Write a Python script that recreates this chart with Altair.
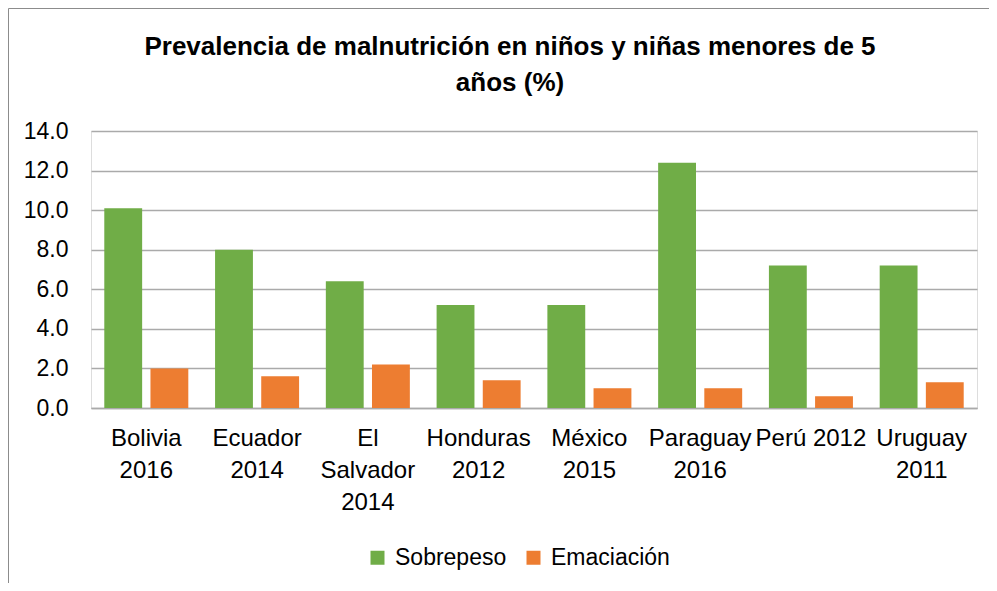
import altair as alt
import pandas as pd

paises = ["Bolivia|2016", "Ecuador|2014", "El|Salvador|2014", "Honduras|2012",
          "México|2015", "Paraguay|2016", "Perú 2012", "Uruguay|2011"]
sobrepeso = [10.1, 8.0, 6.4, 5.2, 5.2, 12.4, 7.2, 7.2]
emaciacion = [2.0, 1.6, 2.2, 1.4, 1.0, 1.0, 0.6, 1.3]
series = ["Sobrepeso", "Emaciación"]
colores = ["#70AD47", "#ED7D31"]
titulo = ["Prevalencia de malnutrición en niños y niñas menores de 5", "años (%)"]

rows = []
for p, s, e in zip(paises, sobrepeso, emaciacion):
    rows.append({"pais": p, "serie": series[0], "valor": s})
    rows.append({"pais": p, "serie": series[1], "valor": e})
df = pd.DataFrame(rows)
one = pd.DataFrame({"k": [0]})

FONT = "Liberation Sans, Arial, sans-serif"

W, H = 886, 277
PL, PT, PR, PB = 83, 123, 12, 175

bars = alt.Chart(df).mark_bar().encode(
    x=alt.X("pais:N", sort=paises, title=None,
            scale=alt.Scale(paddingInner=0.2415, paddingOuter=0.12),
            axis=alt.Axis(labelExpr="split(datum.label, '|')", labelAngle=0,
                          labelFontSize=24, labelFont=FONT, labelColor="#000000",
                          labelLineHeight=32, labelPadding=18, ticks=False,
                          domain=True, domainColor="#aaaaaa", domainWidth=1.5,
                          labelBaseline="top")),
    xOffset=alt.XOffset("serie:N", sort=series,
                        scale=alt.Scale(paddingInner=0.18)),
    y=alt.Y("valor:Q", title=None,
            scale=alt.Scale(domain=[0, 14]),
            axis=alt.Axis(values=[0, 2, 4, 6, 8, 10, 12, 14], format=".1f",
                          labelFontSize=23, labelFont=FONT, labelColor="#000000",
                          labelPadding=23, ticks=False, domain=False,
                          grid=True, gridColor="#aaaaaa", gridWidth=1.5)),
    color=alt.Color("serie:N", sort=series,
                    scale=alt.Scale(domain=series, range=colores),
                    legend=alt.Legend(title=None, orient="none", direction="horizontal",
                                      legendX=275, legendY=415,
                                      symbolType="square", symbolSize=196,
                                      symbolStrokeWidth=0, labelFontSize=23,
                                      labelFont=FONT, labelColor="#000000",
                                      labelOffset=6, columnPadding=15)),
)

title_text = alt.Chart(one).mark_text(
    font=FONT, fontSize=26, fontWeight="bold", color="#000000",
    align="center", baseline="alphabetic", lineHeight=36,
).encode(
    x=alt.value(419), y=alt.value(-76), text=alt.value(titulo)
)

left_border = alt.Chart(one).mark_rule(color="#8c8c8c", strokeWidth=1).encode(
    x=alt.value(-82.5), y=alt.value(-122.5), y2=alt.value(H + PB)
)
top_border = alt.Chart(one).mark_rule(color="#8c8c8c", strokeWidth=1).encode(
    x=alt.value(-82.5), x2=alt.value(W + PR), y=alt.value(-122.5)
)

chart = alt.layer(bars, title_text, left_border, top_border).properties(
    width=W, height=H,
    padding={"left": PL, "top": PT, "right": PR, "bottom": PB},
    autosize=alt.AutoSizeParams(type="none"),
).configure_view(stroke=None).configure(background="#ffffff")

chart.save("out.html", embed_options={"renderer": "svg", "actions": False})
